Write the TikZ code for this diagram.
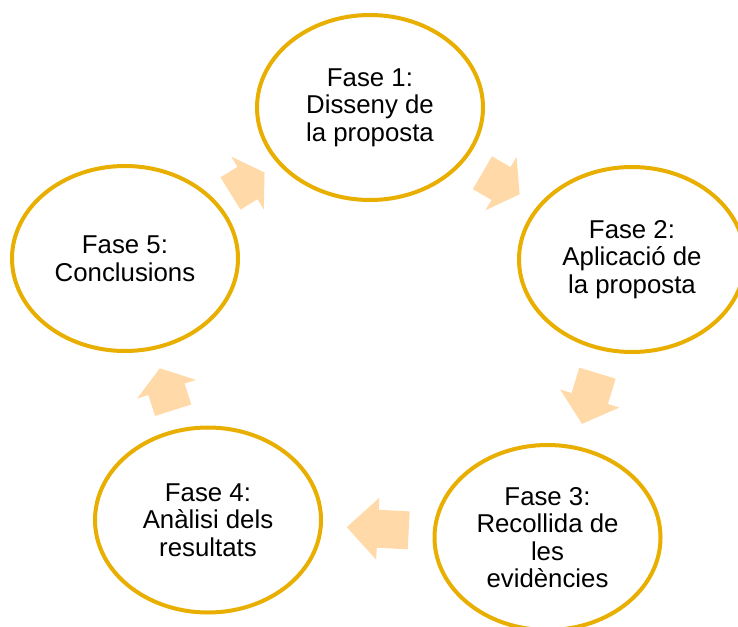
\documentclass[tikz,border=0pt]{standalone}
\usepackage{fontspec}
\setmainfont{Liberation Sans}
\usetikzlibrary{shapes.geometric,calc}
\definecolor{ringgold}{HTML}{E8AE00}
\definecolor{arrowpeach}{HTML}{FFDAA8}
\tikzset{
  phase/.style={ellipse, draw=ringgold, line width=4pt, fill=white,
    minimum width=226pt, minimum height=185pt, inner sep=0pt,
    align=center, font=\fontsize{25.8}{27.5}\selectfont, text=black},
  arrowfill/.style={fill=arrowpeach, draw=none}
}
\newcommand\cyclearrow[3]{%
  \pgfmathanglebetweenpoints{\pgfpointanchor{#1}{center}}{\pgfpointanchor{#2}{center}}%
  \let\arrang\pgfmathresult
  \begin{scope}[shift={($(#1)!0.5!(#2)$)}, rotate=\arrang]
    \fill[arrowfill] (#3/2,0) -- (0,31) -- (0,19) -- (-#3/2,19) -- (-#3/2,-19)
      -- (0,-19) -- (0,-31) -- cycle;
  \end{scope}}
\begin{document}
\begin{tikzpicture}[x=1pt,y=-1pt]
\useasboundingbox (0,0) rectangle (738,626);
\clip (0,0) rectangle (738,626);
\node[phase] (f1) at (370,107.5) {Fase 1:\\Disseny de\\la proposta};
\node[phase] (f2) at (632,259.5) {Fase 2:\\Aplicació de\\la proposta};
\node[phase] (f3) at (547.5,537.5) {Fase 3:\\Recollida de\\les\\evidències};
\node[phase] (f4) at (208,520) {Fase 4:\\Anàlisi dels\\resultats};
\node[phase] (f5) at (125,258.5) {Fase 5:\\Conclusions};
\cyclearrow{f1}{f2}{43}
\cyclearrow{f2}{f3}{53}
\cyclearrow{f3}{f4}{62}
\cyclearrow{f4}{f5}{44}
\cyclearrow{f5}{f1}{40}
\end{tikzpicture}
\end{document}
